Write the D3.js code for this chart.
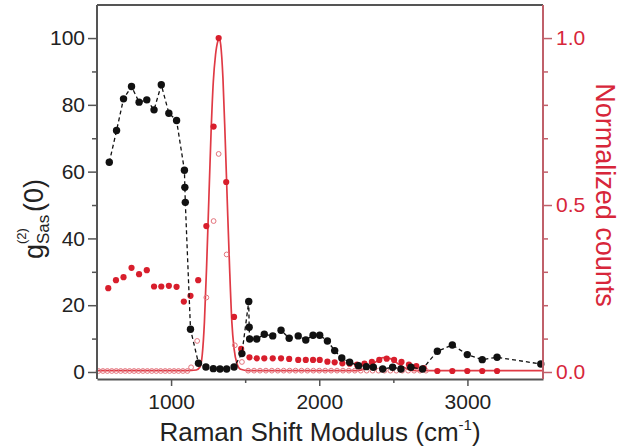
<!DOCTYPE html>
<html><head><meta charset="utf-8">
<script src="https://cdn.jsdelivr.net/npm/d3@7"></script>
<style>html,body{margin:0;padding:0;background:#fff;} svg{display:block;font-family:"Liberation Sans",Arial,sans-serif;}</style>
</head><body><svg id="c" width="622" height="448"></svg>
<script>
// ---- tick values ----
const xTicks = [1000, 2000, 3000];
const xMinor = [1500, 2500];
const yTicks = [0, 20, 40, 60, 80, 100];
const yMinor = [10, 30, 50, 70, 90];
const y2Ticks = [0, 0.5, 1.0];
const y2Minor = [0.1, 0.2, 0.3, 0.4, 0.6, 0.7, 0.8, 0.9];

// ---- g2 (black, left axis) ----
const blackX = [583, 632, 679, 733, 784, 836, 885, 934, 985, 1037, 1090, 1093, 1096, 1131, 1185, 1235, 1285, 1330, 1375, 1425, 1478, 1524, 1527, 1530, 1578, 1629, 1686, 1742, 1797, 1858, 1909, 1958, 2003, 2055, 2104, 2152, 2205, 2265, 2318, 2365, 2428, 2495, 2551, 2619, 2697, 2797, 2898, 2999, 3100, 3200, 3495];
const blackY = [62.8, 72.3, 81.8, 85.5, 80.8, 81.5, 78.5, 86, 77.5, 75.3, 60.4, 55.3, 50.8, 12.8, 2.6, 1.5, 1.0, 0.9, 0.9, 1.5, 5.5, 21.1, 13.4, 9.9, 9.9, 11.3, 10.8, 12.5, 10.1, 10.8, 9.6, 11, 11, 9.3, 6.4, 4.2, 2.9, 1.9, 1.6, 1.4, 0.9, 1.4, 0.9, 1.4, 0.9, 6.2, 8.1, 5.2, 3.7, 4.4, 2.4];

// ---- normalized counts, filled red (right axis) ----
const redX = [576, 628, 679, 733, 784, 836, 885, 934, 985, 1037, 1086, 1131, 1183, 1238, 1287, 1321, 1372, 1425, 1473, 1529, 1578, 1629, 1686, 1742, 1797, 1858, 1909, 1958, 2003, 2055, 2104, 2156, 2205, 2255, 2305, 2355, 2405, 2455, 2505, 2555, 2605, 2655, 2705, 2797, 2898, 2999, 3100, 3200];
const redY = [0.251, 0.275, 0.284, 0.312, 0.293, 0.305, 0.256, 0.256, 0.258, 0.255, 0.211, 0.228, 0.275, 0.437, 0.735, 1.0, 0.569, 0.165, 0.069, 0.044, 0.041, 0.041, 0.041, 0.041, 0.039, 0.036, 0.036, 0.036, 0.036, 0.031, 0.029, 0.026, 0.025, 0.022, 0.025, 0.030, 0.036, 0.040, 0.036, 0.030, 0.022, 0.018, 0.012, 0.003, 0.003, 0.003, 0.003, 0.003];

// ---- normalized counts, open circles (right axis) ----
const openX = [510, 540, 570, 600, 630, 660, 690, 720, 750, 780, 810, 840, 870, 900, 930, 960, 990, 1020, 1050, 1080, 1110, 1135, 1176, 1238, 1287, 1321, 1375, 1430, 1478, 1520, 1560, 1600, 1640, 1680, 1720, 1760, 1800, 1840, 1880, 1920, 1960, 2000, 2040, 2080, 2120, 2160, 2200, 2240, 2280, 2320, 2360, 2400, 2440, 2480, 2520, 2560, 2600, 2640, 2680, 2720];
const openY = [0.003, 0.003, 0.003, 0.003, 0.003, 0.003, 0.003, 0.003, 0.003, 0.003, 0.003, 0.003, 0.003, 0.003, 0.003, 0.003, 0.003, 0.003, 0.003, 0.003, 0.003, 0.014, 0.093, 0.223, 0.452, 0.653, 0.352, 0.080, 0.030, 0.004, 0.004, 0.004, 0.004, 0.004, 0.004, 0.004, 0.004, 0.004, 0.004, 0.004, 0.004, 0.004, 0.004, 0.004, 0.004, 0.004, 0.004, 0.004, 0.004, 0.004, 0.004, 0.004, 0.004, 0.004, 0.004, 0.004, 0.004, 0.004, 0.004, 0.004];

// ---- fit line (right axis) ----
const fitX = [500, 1100, 1170, 1195, 1210, 1225, 1240, 1255, 1270, 1285, 1300, 1315, 1325, 1335, 1350, 1365, 1380, 1395, 1410, 1425, 1445, 1470, 1520, 2250, 2320, 2380, 2430, 2480, 2540, 2600, 2660, 3510];
const fitY = [0.004, 0.004, 0.006, 0.015, 0.05, 0.15, 0.32, 0.52, 0.72, 0.87, 0.95, 0.99, 1.0, 0.98, 0.88, 0.70, 0.50, 0.31, 0.15, 0.07, 0.025, 0.008, 0.004, 0.004, 0.012, 0.030, 0.043, 0.040, 0.022, 0.008, 0.004, 0.004];

const L = 97, R = 543, T = 5, B = 379;
const FONT = '"Liberation Sans",Arial,sans-serif';
const svg = d3.select("#c");
const x = d3.scaleLinear().domain([500, 3510]).range([L, R]);
const y = d3.scaleLinear().domain([-2.1, 109.9]).range([B, T]);
const y2 = d3.scaleLinear().domain([-0.021, 1.099]).range([B, T]);

const AX = "#555", RED = "#d81e2c", RAX = "#c0606a", RTXT = "#d7263a";

// top border
svg.append("line").attr("x1", L).attr("x2", R).attr("y1", T).attr("y2", T).attr("stroke", AX).attr("stroke-width", 2);

// plot data
const plot = svg.append("g");
const fitData = fitX.map((v, i) => [v, fitY[i]]);
plot.append("path").datum(fitData)
  .attr("d", d3.line().x(d => x(d[0])).y(d => y2(d[1])).curve(d3.curveMonotoneX))
  .attr("fill", "none").attr("stroke", "#e03a45").attr("stroke-width", 1.7);

plot.selectAll("circle.open").data(openX.map((v, i) => [v, openY[i]])).join("circle")
  .attr("class", "open").attr("cx", d => x(d[0])).attr("cy", d => y2(d[1])).attr("r", 2.4)
  .attr("fill", "none").attr("stroke", "#e4737c").attr("stroke-width", 1);

plot.selectAll("circle.red").data(redX.map((v, i) => [v, redY[i]])).join("circle")
  .attr("class", "red").attr("cx", d => x(d[0])).attr("cy", d => y2(d[1])).attr("r", 3.1)
  .attr("fill", RED);

const bData = blackX.map((v, i) => [v, blackY[i]]);
plot.append("path").datum(bData)
  .attr("d", d3.line().x(d => x(d[0])).y(d => y(d[1])))
  .attr("fill", "none").attr("stroke", "#111").attr("stroke-width", 1.3).attr("stroke-dasharray", "4,3");
plot.selectAll("circle.blk").data(bData).join("circle")
  .attr("class", "blk").attr("cx", d => x(d[0])).attr("cy", d => y(d[1])).attr("r", 3.7)
  .attr("fill", "#111");

// axes
function style(g, col, txtCol) {
  g.select(".domain").attr("stroke", col).attr("stroke-width", 2);
  g.selectAll(".tick line").attr("stroke", col).attr("stroke-width", 1.5);
  g.selectAll(".tick text").attr("fill", txtCol).attr("font-size", 21).attr("font-family", FONT);
}
// bottom
const gx = svg.append("g").attr("transform", `translate(0,${B})`)
  .call(d3.axisBottom(x).tickValues(xTicks).tickSize(7).tickSizeOuter(0).tickPadding(8).tickFormat(d3.format("d")));
style(gx, AX, "#222");
const gxm = svg.append("g").attr("transform", `translate(0,${B})`)
  .call(d3.axisBottom(x).tickValues(xMinor).tickSize(4).tickSizeOuter(0).tickFormat(""));
style(gxm, AX, "#222"); gxm.select(".domain").remove();

// left
const gy = svg.append("g").attr("transform", `translate(${L},0)`)
  .call(d3.axisLeft(y).tickValues(yTicks).tickSize(9).tickSizeOuter(0).tickPadding(3));
style(gy, AX, "#222");
gy.select(".domain").attr("d", `M0,${T}V${B}`);
const gym = svg.append("g").attr("transform", `translate(${L},0)`)
  .call(d3.axisLeft(y).tickValues(yMinor).tickSize(5).tickFormat(""));
style(gym, AX, "#222"); gym.select(".domain").remove();

// right
const gr = svg.append("g").attr("transform", `translate(${R},0)`)
  .call(d3.axisRight(y2).tickValues(y2Ticks).tickSize(9).tickSizeOuter(0).tickPadding(4).tickFormat(d3.format(".1f")));
style(gr, RAX, RTXT);
gr.select(".domain").attr("d", `M0,${T}V${B}`);
const grm = svg.append("g").attr("transform", `translate(${R},0)`)
  .call(d3.axisRight(y2).tickValues(y2Minor).tickSize(5).tickFormat(""));
style(grm, RAX, RTXT); grm.select(".domain").remove();

// x title
const xt = svg.append("text").attr("x", 320).attr("y", 441).attr("text-anchor", "middle")
  .attr("font-size", 26).attr("fill", "#222");
xt.append("tspan").text("Raman Shift Modulus (cm");
xt.append("tspan").attr("font-size", 15).attr("dy", -11).text("-1");
xt.append("tspan").attr("dy", 11).text(")");

// right title
svg.append("text").attr("transform", "translate(596,195) rotate(90)").attr("text-anchor", "middle")
  .attr("font-size", 27).attr("fill", RTXT).text("Normalized counts");

// left title: g^(2)_Sas(0)
const lt = svg.append("g").attr("transform", "translate(43,207) rotate(-90)");
lt.append("text").attr("x", -52).attr("y", 0).attr("font-size", 27).attr("fill", "#222").text("g");
lt.append("text").attr("x", -37).attr("y", -17).attr("font-size", 13).attr("fill", "#222").text("(2)");
lt.append("text").attr("x", -37).attr("y", 6).attr("font-size", 17).attr("fill", "#222").text("Sas");
lt.append("text").attr("x", -5).attr("y", 0).attr("font-size", 27).attr("fill", "#222").text("(0)");
</script></body></html>
